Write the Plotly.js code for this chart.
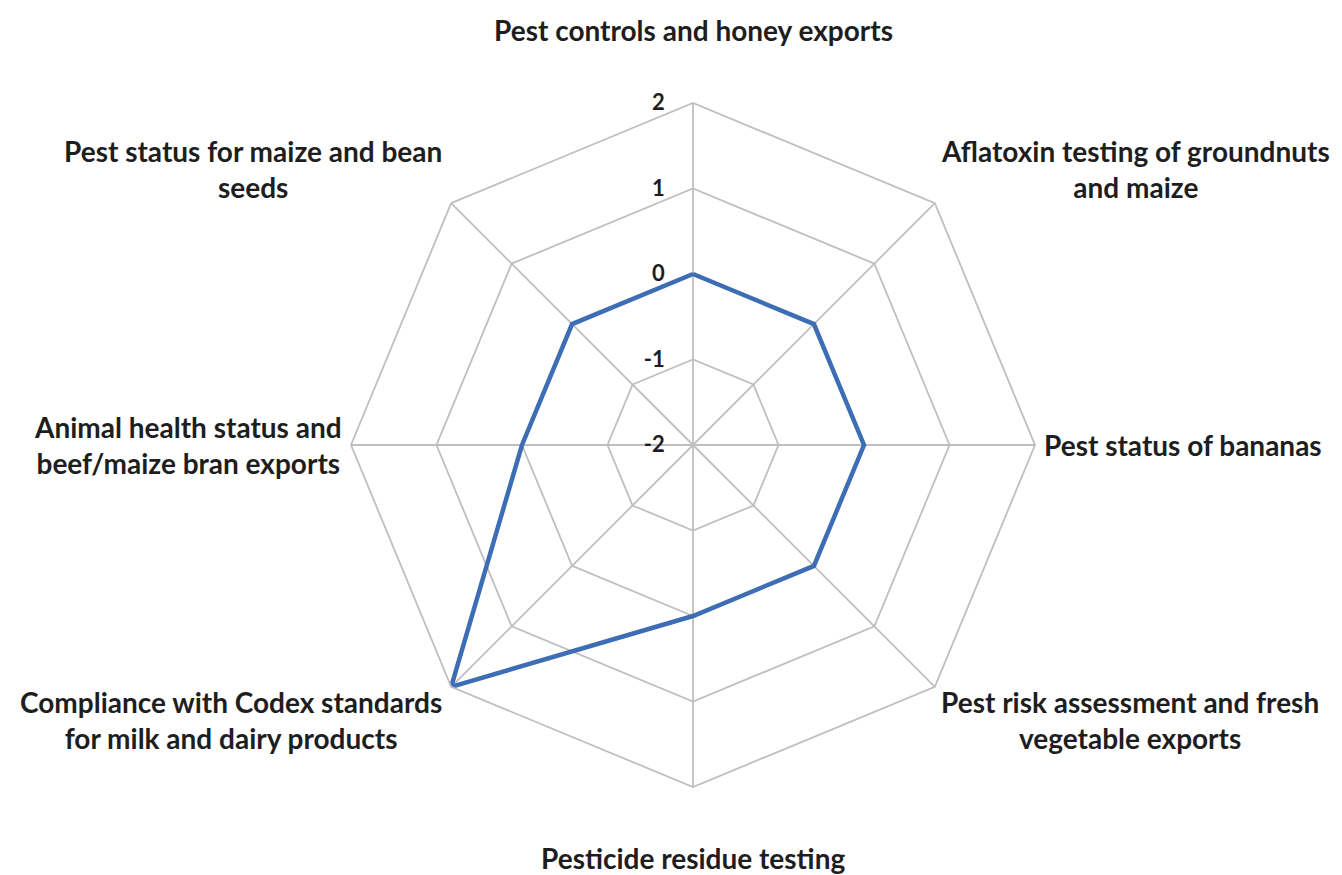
<!DOCTYPE html>
<html>
<head>
<meta charset="utf-8">
<script src="https://cdn.plot.ly/plotly-3.0.1.min.js"></script>
<style>html,body{margin:0;padding:0;background:#fff;}#chart{width:1342px;height:875px;}</style>
</head>
<body>
<div id="chart"></div>
<script>
const categories = [
  "Pest controls and honey exports",
  "Aflatoxin testing of groundnuts and maize",
  "Pest status of bananas",
  "Pest risk assessment and fresh vegetable exports",
  "Pesticide residue testing",
  "Compliance with Codex standards for milk and dairy products",
  "Animal health status and beef/maize bran exports",
  "Pest status for maize and bean seeds"
];
const categoryLabels = [
  "Pest controls and honey exports",
  "Aflatoxin testing of groundnuts<br>and maize",
  "Pest status of bananas",
  "Pest risk assessment and fresh<br>vegetable exports",
  "Pesticide residue testing",
  "Compliance with Codex standards<br>for milk and dairy products",
  "Animal health status and<br>beef/maize bran exports",
  "Pest status for maize and bean<br>seeds"
];
const values = [0, 0, 0, 0, 0, 2, 0, 0];
const radialTicks = [-2, -1, 0, 1, 2];

const theta = categories.concat([categories[0]]);
const r = values.concat([values[0]]);

// layout geometry
const W = 1342, H = 875;
const cx = 693, cy = 445, R = 342;      // polar area
const LRY = 375;                         // vertical label ring
const FONT = 'Lato, "Open Sans", sans-serif';

const annotations = categoryLabels.map((txt, i) => {
  const a = i * 2 * Math.PI / categories.length;
  const s = Math.sin(a), c = Math.cos(a);
  let xanchor = 'center', xshift = 0, yshift = 0;
  if (s > 0.9) { xanchor = 'left'; xshift = 7; }
  else if (s > 0.1) { xanchor = 'left'; xshift = 4; }
  else if (s < -0.9) { xanchor = 'right'; xshift = -7; }
  else if (s < -0.1) { xanchor = 'right'; xshift = -7; }
  if (c > 0.9) yshift = 40;
  else if (c < -0.9) yshift = -38;
  else if (c > 0.1) yshift = 11;
  else if (c < -0.1) yshift = -10;
  return {
    text: '<b>' + txt + '</b>',
    xref: 'paper', yref: 'paper',
    x: (cx + R * s) / W,
    y: (H - cy + LRY * c) / H,
    xanchor: xanchor, yanchor: 'middle',
    xshift: xshift, yshift: yshift,
    align: 'center',
    showarrow: false,
    font: {family: FONT, size: 28, color: '#1e1e1e'}
  };
});

Plotly.newPlot('chart', [{
  type: 'scatterpolar',
  r: r,
  theta: theta,
  mode: 'lines',
  line: {color: '#3D6DB5', width: 4.5},
  hoverinfo: 'skip',
  showlegend: false
}], {
  width: W, height: H,
  margin: {l: 0, r: 0, t: 0, b: 0},
  paper_bgcolor: '#fff',
  font: {family: FONT, color: '#1e1e1e'},
  annotations: annotations,
  polar: {
    domain: {x: [(cx - R) / W, (cx + R) / W], y: [(H - cy - R) / H, (H - cy + R) / H]},
    gridshape: 'linear',
    bgcolor: '#fff',
    angularaxis: {
      type: 'category',
      categoryarray: categories,
      direction: 'clockwise',
      rotation: 90,
      showline: true,
      linecolor: '#bfbfbf',
      linewidth: 1.8,
      gridcolor: '#bfbfbf',
      gridwidth: 1.8,
      ticks: '',
      showticklabels: false
    },
    radialaxis: {
      range: [-2, 2],
      tickvals: radialTicks,
      ticktext: radialTicks.map(v => '<b>' + v + '</b>'),
      angle: 90,
      side: 'counterclockwise',
      showline: false,
      ticks: 'outside',
      ticklen: 20,
      tickcolor: 'rgba(0,0,0,0)',
      gridcolor: '#bfbfbf',
      gridwidth: 1.8,
      tickfont: {size: 22, color: '#1e1e1e', family: FONT},
      tickangle: 90
    }
  }
}, {staticPlot: true});
</script>
</body>
</html>
